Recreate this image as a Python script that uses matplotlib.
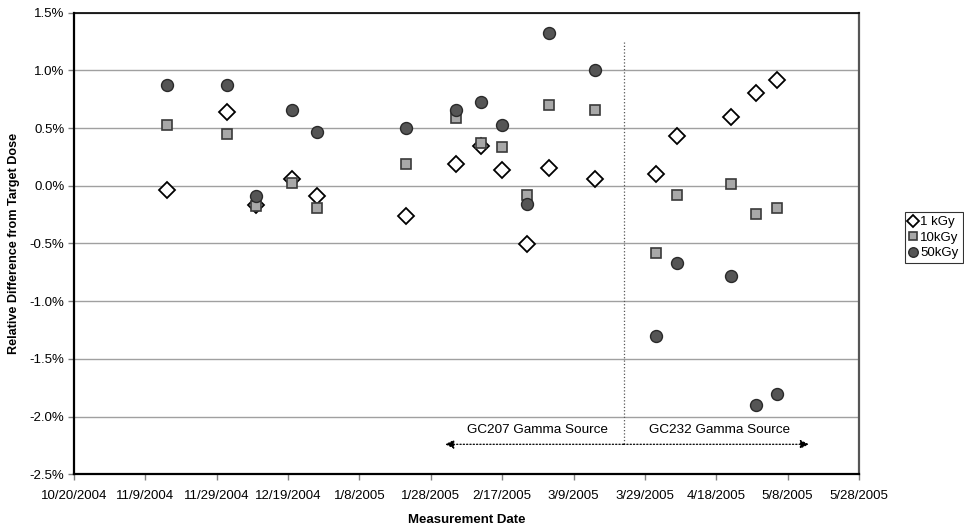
import datetime as dt
import matplotlib
matplotlib.use("Agg")
import matplotlib.pyplot as plt
import matplotlib.dates as mdates
from matplotlib.ticker import FuncFormatter, MultipleLocator

plt.rcParams['font.family'] = ['Liberation Sans', 'DejaVu Sans']

dates = ["2004-11-15", "2004-12-02", "2004-12-10", "2004-12-20", "2004-12-27",
         "2005-01-21", "2005-02-04", "2005-02-11", "2005-02-17", "2005-02-24",
         "2005-03-02", "2005-03-15", "2005-04-01", "2005-04-07", "2005-04-22",
         "2005-04-29", "2005-05-05"]
kgy1 = [-0.037, 0.637, -0.167, 0.058, -0.092, -0.26, 0.19, 0.346, 0.141, -0.505,
        0.153, 0.058, 0.10, 0.433, 0.60, 0.80, 0.92]
kgy10 = [0.53, 0.45, -0.173, 0.023, -0.193, 0.19, 0.59, 0.37, 0.34, -0.078,
         0.703, 0.655, -0.58, -0.08, 0.017, -0.245, -0.19]
kgy50 = [0.876, 0.87, -0.087, 0.655, 0.467, 0.50, 0.657, 0.724, 0.528, -0.158,
         1.326, 1.006, -1.30, -0.672, -0.78, -1.897, -1.80]

x = [dt.datetime.strptime(d, "%Y-%m-%d") for d in dates]

fig = plt.figure(figsize=(9.64, 5.27), dpi=100)
ax = fig.add_axes([74/964, 1-474.3/527, (859-74)/964, (474.3-12.7)/527])

ax.plot(x, kgy1, linestyle='none', marker='D', ms=7.8, mfc='white', mec='black',
        mew=1.3, label='1 kGy', zorder=3)
ax.plot(x, kgy10, linestyle='none', marker='s', ms=6.8, mfc='#a8a8a8', mec='#3a3a3a',
        mew=1.2, label='10kGy', zorder=4)
ax.plot(x, kgy50, linestyle='none', marker='o', ms=8.6, mfc='#555555', mec='#2a2a2a',
        mew=1.0, label='50kGy', zorder=5)

x0 = dt.datetime(2004, 10, 20)
x1 = dt.datetime(2005, 5, 28)
ax.set_xlim(x0, x1)
ax.set_ylim(-2.5, 1.5)
ticks = [x0 + dt.timedelta(days=20*i) for i in range(12)]
ax.set_xticks(ticks)
ax.xaxis.set_major_formatter(FuncFormatter(
    lambda v, p: (lambda d: f"{d.month}/{d.day}/{d.year}")(mdates.num2date(v))))
ax.yaxis.set_major_locator(MultipleLocator(0.5))
ax.yaxis.set_major_formatter(FuncFormatter(lambda v, p: f"{v:.1f}%"))
ax.grid(axis='y', color='#a0a0a0', linewidth=1.0, zorder=0)
ax.set_axisbelow(True)

for side in ['left', 'bottom']:
    ax.spines[side].set_linewidth(1.6)
    ax.spines[side].set_color('black')
ax.spines['top'].set_linewidth(1.2)
ax.spines['top'].set_color('black')
ax.spines['right'].set_linewidth(1.6)
ax.spines['right'].set_color('#555555')
ax.tick_params(axis='both', direction='out', length=4, width=1, color='#808080',
               labelsize=9.5)
ax.tick_params(axis='x', pad=7)
ax.tick_params(axis='y', pad=3)

ax.set_xlabel('Measurement Date', fontsize=9.5, fontweight='bold', labelpad=9)
ax.set_ylabel('Relative Difference from Target Dose', fontsize=9.1,
              fontweight='bold', labelpad=12)
ax.yaxis.set_label_coords(-54/785, 0.5)

split = dt.datetime(2005, 3, 23)
ax.plot([split, split], [-2.24, 1.25], linestyle=':', color='#555555', linewidth=0.9,
        zorder=2)
ax.annotate('', xy=(dt.datetime(2005, 2, 1), -2.24), xytext=(split, -2.24),
            arrowprops=dict(arrowstyle='-|>', linestyle=':', color='black', lw=0.9,
                            mutation_scale=13, shrinkA=0, shrinkB=0))
ax.annotate('', xy=(dt.datetime(2005, 5, 14), -2.24), xytext=(split, -2.24),
            arrowprops=dict(arrowstyle='-|>', linestyle=':', color='black', lw=0.9,
                            mutation_scale=13, shrinkA=0, shrinkB=0))
ax.text(dt.datetime(2005, 2, 27), -2.12, 'GC207 Gamma Source', ha='center',
        va='center', fontsize=9.7)
ax.text(dt.datetime(2005, 4, 19), -2.12, 'GC232 Gamma Source', ha='center',
        va='center', fontsize=9.7)

leg = fig.legend(loc='upper left', bbox_to_anchor=(905/964, 1-212/527),
                 frameon=True, fontsize=9.5, handlelength=0.6, handletextpad=0.25,
                 borderpad=0.3, labelspacing=0.25, borderaxespad=0, fancybox=False,
                 markerscale=0.8)
leg.get_frame().set_edgecolor('black')
leg.get_frame().set_linewidth(0.8)

fig.savefig('out.png', dpi=100)
